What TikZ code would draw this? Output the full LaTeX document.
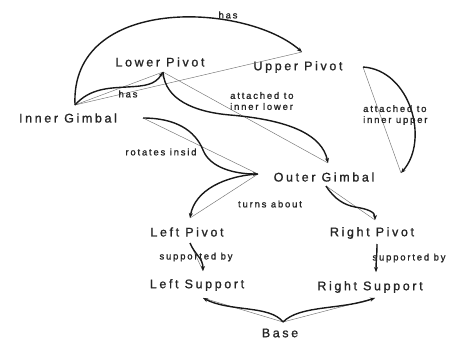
\documentclass[tikz,border=0pt]{standalone}
\usepackage{fontspec}
\setmainfont{Liberation Sans}
\newfontfamily\conceptfont{Liberation Sans}[LetterSpace=21,FakeBold=1.2]
\newfontfamily\linkfont{Liberation Sans}[LetterSpace=19,FakeBold=1.2]
\usetikzlibrary{arrows.meta}

\begin{document}
\begin{tikzpicture}[x=1pt,y=-1pt,
  concept/.style={font=\conceptfont\fontsize{12.5}{14}\selectfont, inner sep=0pt, text=black!85},
  linkword/.style={font=\linkfont\fontsize{9.5}{11}\selectfont, inner sep=0pt, text=black!85, align=left},
  link/.style={line width=1.4pt, black!90, -{Stealth[length=5pt,width=4pt]}},
  chord/.style={line width=0.45pt, black!55},
]
\useasboundingbox[fill=white] (0,0) rectangle (456,340);

% concepts
\node[concept] (lp)   at (160,62)  {Lower Pivot};
\node[concept] (up)   at (298,67)  {Upper Pivot};
\node[concept] (ig)   at (68,118)  {Inner Gimbal};
\node[concept] (og)   at (324,177) {Outer Gimbal};
\node[concept] (lpv)  at (187,232) {Left Pivot};
\node[concept] (rpv)  at (372,233) {Right Pivot};
\node[concept] (ls)   at (197,285) {Left Support};
\node[concept] (rs)   at (370,287) {Right Support};
\node[concept] (base) at (280,333) {Base};

% attachment points of the links
\coordinate (igTop) at (75,105);
\coordinate (igRt)  at (143,118);
\coordinate (lpBot) at (163,72);
\coordinate (upIn)  at (302,52);
\coordinate (upRt)  at (363,67);
\coordinate (ogTop) at (328,163);
\coordinate (ogRt)  at (401,173);
\coordinate (ogLt)  at (258,174);
\coordinate (ogBot) at (326,186);
\coordinate (lpvTop) at (190,218);
\coordinate (lpvBot) at (190,243);
\coordinate (rpvTop) at (375,220);
\coordinate (rpvBot) at (377,244);
\coordinate (lsTop) at (203,271);
\coordinate (lsBot) at (203,298);
\coordinate (rsTop) at (376,272);
\coordinate (rsBot) at (375,298);
\coordinate (baseTop) at (283,322);

% straight chords
\draw[chord] (igTop) -- (upIn);
\draw[chord] (igTop) -- (lpBot);
\draw[chord] (lpBot) -- (ogTop);
\draw[chord] (upRt) -- (ogRt);
\draw[chord] (igRt) -- (ogLt);
\draw[chord] (ogLt) -- (lpvTop);
\draw[chord] (ogBot) -- (rpvTop);
\draw[chord] (lpvBot) -- (lsTop);
\draw[chord] (rpvBot) -- (rsTop);
\draw[chord] (baseTop) -- (lsBot);
\draw[chord] (baseTop) -- (rsBot);

% curved links
\draw[link] (igTop) .. controls (70,-5) and (245,2) .. (upIn);
\draw[link] (igTop) .. controls (90,88) and (110,88) .. (127,87)
                    .. controls (145,86) and (155,85) .. (lpBot);
\draw[link] (lpBot) .. controls (165,100) and (195,112) .. (230,115)
                    .. controls (290,120) and (322,135) .. (ogTop);
\draw[link] (upRt) .. controls (410,70) and (430,140) .. (ogRt);
\draw[link] (igRt) .. controls (175,118) and (195,130) .. (203,150)
                   .. controls (210,168) and (235,174) .. (ogLt);
\draw[link] (ogLt) .. controls (225,176) and (195,190) .. (lpvTop);
\draw[link] (ogBot) .. controls (335,200) and (345,205) .. (355,207)
                    .. controls (368,209) and (375,212) .. (rpvTop);
\draw[link] (lpvBot) .. controls (195,255) and (203,258) .. (lsTop);
\draw[link] (rpvBot) .. controls (377,255) and (376,262) .. (rsTop);
\draw[link] (baseTop) .. controls (270,305) and (230,312) .. (lsBot);
\draw[link] (baseTop) .. controls (300,305) and (340,310) .. (rsBot);

% linking phrases
\node[linkword] (l1) at (228,15)  {has};
\node[linkword] (l2) at (128,94)  {has};
\node[linkword, anchor=west] (l3) at (230,101) {attached to\\inner lower};
\node[linkword, anchor=west] (l4) at (363,115) {attached to\\inner upper};
\node[linkword] (l5) at (161,152) {rotates insid};
\node[linkword] (l6) at (270,204) {turns about};
\node[linkword] (l7) at (196,257) {supported by};
\node[linkword] (l8) at (409,258) {supported by};
\end{tikzpicture}
\end{document}
